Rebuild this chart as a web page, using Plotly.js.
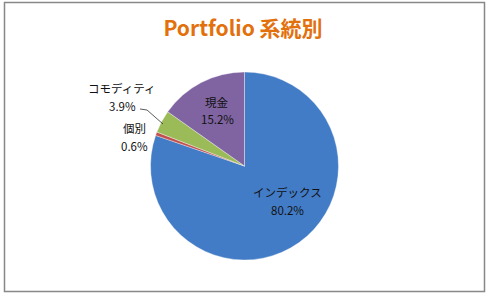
<!DOCTYPE html>
<html><head><meta charset="utf-8">
<script src="https://cdn.plot.ly/plotly-3.0.1.min.js"></script>
<style>html,body{margin:0;padding:0;background:#fff}#c{width:489px;height:295px}</style>
</head><body><div id="c"></div>
<script>
const labels = ['インデックス', '個別', 'コモディティ', '現金'];
const values = [80.2, 0.6, 3.9, 15.2];
const colors = ['#437CC6', '#C0504D', '#9BBB59', '#8064A2'];
const titleText = 'Portfolio 系統別';

const W = 489, H = 295;
const px = x => x / W, py = y => 1 - y / H;
const font = {family: '"Noto Sans CJK JP", "Noto Sans", sans-serif', size: 11.5, color: '#111'};

// [x, yLabel, yPercent] in pixels
const labelPos = [[287, 192, 210], [134, 128, 146], [122, 88, 106], [217, 102, 119]];
const annotations = [];
labels.forEach((l, i) => {
  const p = labelPos[i];
  annotations.push({x: px(p[0]), y: py(p[1]), xref: 'paper', yref: 'paper', text: l,
    showarrow: false, font: font, xanchor: 'center', yanchor: 'middle'});
  annotations.push({x: px(p[0]), y: py(p[2]), xref: 'paper', yref: 'paper', text: values[i].toFixed(1) + '%',
    showarrow: false, font: font, xanchor: 'center', yanchor: 'middle'});
});

const data = [{
  type: 'pie', labels: labels, values: values, sort: false, direction: 'clockwise',
  rotation: 0, textinfo: 'none', hoverinfo: 'label+value',
  marker: {colors: colors, line: {color: 'rgba(255,255,255,0.6)', width: 0.6}},
  domain: {x: [px(150), px(339)], y: [py(260), py(72)]}
}];

const layout = {
  width: W, height: H, margin: {l: 0, r: 0, t: 0, b: 0},
  paper_bgcolor: '#fff', showlegend: false,
  title: {text: '<b>' + titleText + '</b>', x: px(243), xanchor: 'center', y: py(29), yanchor: 'middle',
    font: {family: '"Noto Sans CJK JP", sans-serif', size: 21, color: '#E2700C'}},
  annotations: annotations,
  shapes: [
    {type: 'rect', xref: 'paper', yref: 'paper', x0: px(4.5), x1: px(484.5), y0: py(291.5), y1: py(2.5),
     line: {color: '#888', width: 1.5}},
    {type: 'path', xref: 'paper', yref: 'paper',
     path: `M ${px(140)} ${py(109)} L ${px(147)} ${py(110)} L ${px(163)} ${py(124)}`,
     line: {color: '#333', width: 0.8}}
  ]
};
Plotly.newPlot('c', data, layout, {staticPlot: true});
</script></body></html>
